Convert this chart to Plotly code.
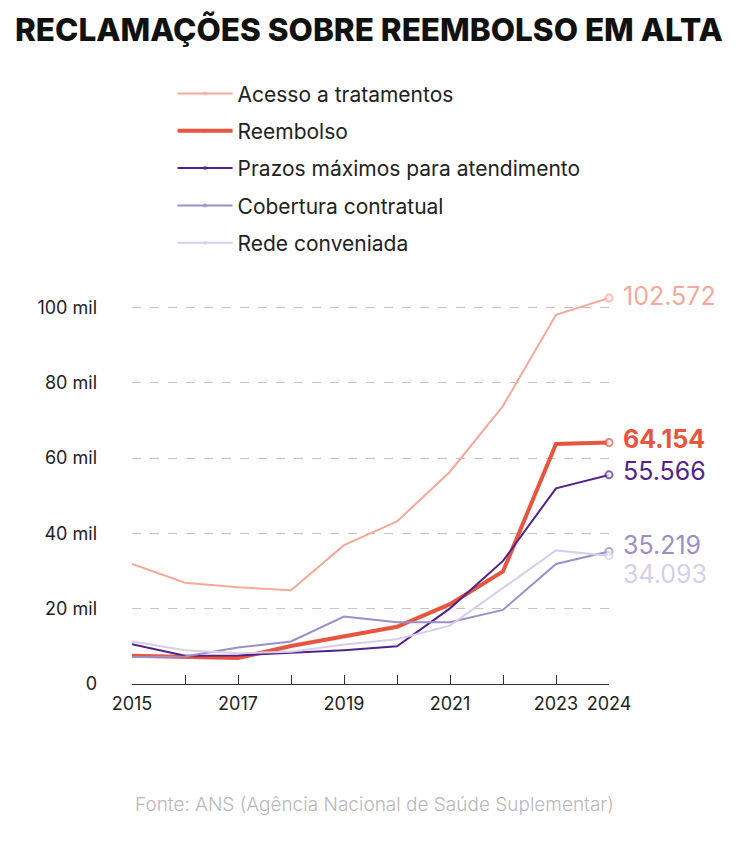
import plotly.graph_objects as go

years = [2015, 2016, 2017, 2018, 2019, 2020, 2021, 2022, 2023, 2024]
acesso = [31900, 26900, 25700, 24900, 36900, 43200, 56400, 73900, 98100, 102572]
reembolso = [7500, 7100, 6900, 10100, 12600, 15200, 21200, 29900, 63800, 64154]
prazos = [10600, 7500, 7600, 8200, 9000, 10000, 20100, 32700, 52000, 55566]
cobertura = [7200, 7300, 9700, 11300, 17900, 16400, 16400, 19700, 31900, 35219]
rede = [11300, 9000, 8200, 8600, 10500, 11900, 15500, 25400, 35500, 34093]

names = ["Acesso a tratamentos", "Reembolso", "Prazos máximos para atendimento",
         "Cobertura contratual", "Rede conveniada"]
series = [acesso, reembolso, prazos, cobertura, rede]
end_labels = ["102.572", "64.154", "55.566", "35.219", "34.093"]

tick_years = [2015, 2016, 2017, 2018, 2019, 2020, 2021, 2022, 2023, 2024]
tick_text = ["2015", "", "2017", "", "2019", "", "2021", "", "2023", "2024"]
y_ticks = [0, 20000, 40000, 60000, 80000, 100000]
y_text = ["0", "20 mil", "40 mil", "60 mil", "80 mil", "100 mil"]

colors = ["#f5a99b", "#e8553e", "#52228c", "#9c8ec6", "#d6cfe7"]
widths = [2, 4, 2, 2, 2]
label_shift = [2, 4, 4, 6, -18]
label_bold = [False, True, False, False, False]

FONT = "Inter"
fig = go.Figure()
for i, (n, s) in enumerate(zip(names, series)):
    sizes = [0] * (len(years) - 1) + [7]
    fig.add_trace(go.Scatter(
        x=years, y=s, name=n, mode="lines+markers",
        line=dict(color=colors[i], width=widths[i]),
        marker=dict(size=sizes, symbol="circle", color="white",
                    line=dict(color=colors[i], width=2)),
        cliponaxis=False, legendgroup=n, hoverinfo="skip",
    ))
    fig.add_annotation(
        x=years[-1], y=s[-1], xref="x", yref="y", text=end_labels[i],
        showarrow=False, xanchor="left", yanchor="middle", xshift=12,
        yshift=label_shift[i],
        font=dict(family=FONT, size=25, color=colors[i],
                  weight=700 if label_bold[i] else 400),
    )

fig.add_annotation(
    x=0.5, y=1, xref="paper", yref="paper", xanchor="center", yanchor="top",
    yshift=270 - 8, xshift=-2, text="RECLAMAÇÕES SOBRE REEMBOLSO EM ALTA", showarrow=False,
    font=dict(family=FONT, size=31.5, color="#111111", weight=800),
)
fig.add_annotation(
    x=0.5, y=0, xref="paper", yref="paper", xanchor="center", yanchor="middle",
    yshift=-120, xshift=4, text="Fonte: ANS (Agência Nacional de Saúde Suplementar)",
    showarrow=False, font=dict(family=FONT, size=19, color="#b8b8b8", weight=300),
)

fig.update_layout(
    width=750, height=843,
    margin=dict(l=132, r=141, t=270, b=159),
    plot_bgcolor="white", paper_bgcolor="white",
    showlegend=True,
    legend=dict(x=0.085, y=1.475, xanchor="left", yanchor="top",
                font=dict(family=FONT, size=21, color="#222222"),
                tracegroupgap=7, itemwidth=55, bgcolor="rgba(0,0,0,0)"),
    xaxis=dict(range=[2015, 2024], tickvals=tick_years, ticktext=tick_text,
               showgrid=False, zeroline=False, showline=True, linecolor="#333333",
               linewidth=1, ticks="inside", ticklen=9, tickcolor="#333333",
               ticklabelstandoff=3,
               tickfont=dict(family=FONT, size=18, color="#222222")),
    yaxis=dict(range=[0, 110000], tickvals=y_ticks, ticktext=y_text,
               showgrid=True, gridcolor="#c4c4c4", griddash="dash", gridwidth=1,
               zeroline=False, showline=False, ticks="", ticklabelstandoff=34,
               tickfont=dict(family=FONT, size=18, color="#222222")),
)

fig.write_html("out.html")
